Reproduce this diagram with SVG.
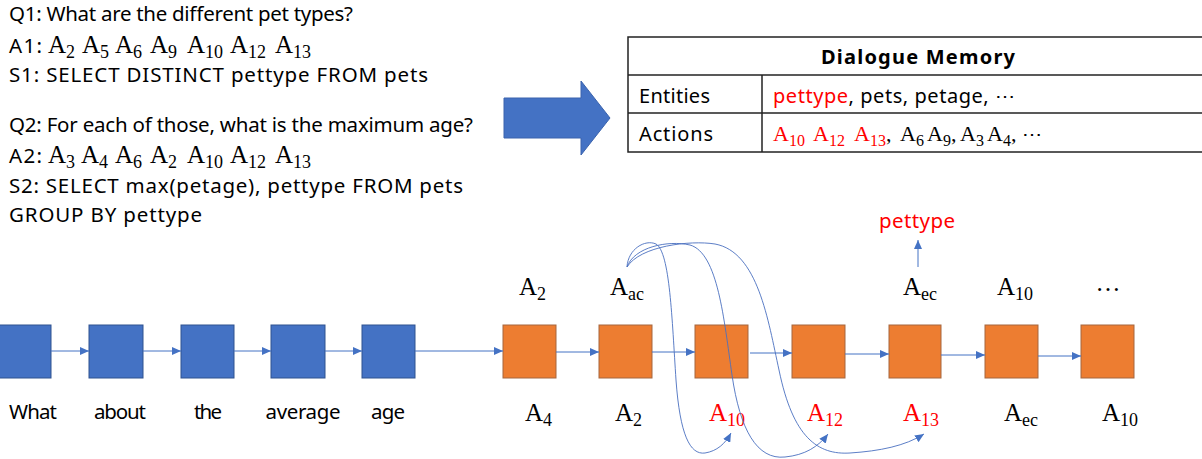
<svg xmlns="http://www.w3.org/2000/svg" width="1202" height="459" viewBox="0 0 1202 459">
<style>
.t{font-family:"Noto Sans","Liberation Sans",Arial,sans-serif;font-size:20.5px;fill:#000}
.m{font-family:"Liberation Serif","Times New Roman",serif;font-size:25px;fill:#000}
.ms{font-family:"Liberation Serif","Times New Roman",serif;font-size:22px;fill:#000}
.s{font-size:18px}
.s2{font-size:16px}
.red{fill:#FF0000}
.tb{font-family:"Noto Sans","Liberation Sans",Arial,sans-serif;font-size:20px;fill:#000}
.blue{fill:#4472C4;stroke:#2F528F;stroke-width:1}
.orange{fill:#ED7D31;stroke:#A5673F;stroke-width:1}
.c{stroke:#4472C4;stroke-width:1;fill:none}
.cv{stroke:#4A6FBF;stroke-width:0.9;fill:none}
.tl{stroke:#222;stroke-width:1.5;fill:none}
</style>
<defs>
<marker id="ah" markerUnits="userSpaceOnUse" markerWidth="10" markerHeight="8" refX="9" refY="4" orient="auto">
<path d="M0,0 L9,4 L0,8 z" fill="#4472C4"/>
</marker>
</defs>

<g id="question-text">
<text class="t" x="9" y="21" textLength="344">Q1: What are the different pet types?</text>
<text class="t" x="9" y="53" textLength="33">A1:</text>
<text class="m" x="48" y="53">A<tspan class="s" dy="5">2</tspan></text>
<text class="m" x="82" y="53">A<tspan class="s" dy="5">5</tspan></text>
<text class="m" x="115" y="53">A<tspan class="s" dy="5">6</tspan></text>
<text class="m" x="150" y="53">A<tspan class="s" dy="5">9</tspan></text>
<text class="m" x="187" y="53">A<tspan class="s" dy="5">10</tspan></text>
<text class="m" x="230" y="53">A<tspan class="s" dy="5">12</tspan></text>
<text class="m" x="275" y="53">A<tspan class="s" dy="5">13</tspan></text>
<text class="t" x="9" y="82" textLength="419">S1: SELECT DISTINCT pettype FROM pets</text>
<text class="t" x="9" y="132" textLength="464">Q2: For each of those, what is the maximum age?</text>
<text class="t" x="9" y="163" textLength="33">A2:</text>
<text class="m" x="48" y="163">A<tspan class="s" dy="5">3</tspan></text>
<text class="m" x="81" y="163">A<tspan class="s" dy="5">4</tspan></text>
<text class="m" x="115" y="163">A<tspan class="s" dy="5">6</tspan></text>
<text class="m" x="150" y="163">A<tspan class="s" dy="5">2</tspan></text>
<text class="m" x="187" y="163">A<tspan class="s" dy="5">10</tspan></text>
<text class="m" x="230" y="163">A<tspan class="s" dy="5">12</tspan></text>
<text class="m" x="275" y="163">A<tspan class="s" dy="5">13</tspan></text>
<text class="t" x="9" y="193" textLength="454">S2: SELECT max(petage), pettype FROM pets</text>
<text class="t" x="9" y="222" textLength="193">GROUP BY pettype</text>
</g>

<g id="big-arrow">
<path d="M504,98 L581,98 L581,81 L610,118 L581,155 L581,138 L504,138 z" fill="#4472C4" stroke="#3A63AD" stroke-width="1"/>
</g>

<g id="dialogue-memory">
<rect class="tl" x="628" y="37" width="580" height="115"/>
<line class="tl" x1="628" y1="75" x2="1202" y2="75"/>
<line class="tl" x1="628" y1="113" x2="1202" y2="113"/>
<line class="tl" x1="762" y1="75" x2="762" y2="152"/>
<text class="tb" x="918" y="64" text-anchor="middle" font-weight="bold" font-size="22" textLength="194">Dialogue Memory</text>
<text class="tb" x="639" y="103" textLength="71">Entities</text>
<text class="tb" x="639" y="141" textLength="74">Actions</text>
<text class="tb" x="773" y="103" textLength="242"><tspan class="red">pettype</tspan>, pets, petage, ⋯</text>
<text class="ms red" x="773" y="141">A<tspan class="s2" dy="5">10</tspan></text>
<text class="ms red" x="813" y="141">A<tspan class="s2" dy="5">12</tspan></text>
<text class="ms red" x="854" y="141">A<tspan class="s2" dy="5">13</tspan></text>
<text class="ms" x="886" y="141">,</text>
<text class="ms" x="900" y="141">A<tspan class="s2" dy="5">6</tspan></text>
<text class="ms" x="927" y="141">A<tspan class="s2" dy="5">9</tspan><tspan dy="-5">,</tspan></text>
<text class="ms" x="960" y="141">A<tspan class="s2" dy="5">3</tspan></text>
<text class="ms" x="987" y="141">A<tspan class="s2" dy="5">4</tspan><tspan dy="-5">,</tspan></text>
<text class="tb" x="1022" y="141">⋯</text>
</g>

<g id="encoder">
<g id="n-what"><rect class="blue" x="-2" y="325" width="53" height="53"/><text class="t" x="33" y="419" text-anchor="middle" textLength="48">What</text></g>
<g id="n-about"><rect class="blue" x="89" y="325" width="54" height="53"/><text class="t" x="120" y="419" text-anchor="middle" textLength="52">about</text></g>
<g id="n-the"><rect class="blue" x="181" y="325" width="53" height="53"/><text class="t" x="208" y="419" text-anchor="middle" textLength="28">the</text></g>
<g id="n-average"><rect class="blue" x="271" y="325" width="54" height="53"/><text class="t" x="303" y="419" text-anchor="middle" textLength="75">average</text></g>
<g id="n-age"><rect class="blue" x="362" y="325" width="53" height="53"/><text class="t" x="388" y="419" text-anchor="middle" textLength="34">age</text></g>
</g>

<g id="decoder">
<g id="d1"><rect class="orange" x="503" y="325" width="53" height="53"/>
<text class="m" x="519" y="295">A<tspan class="s" dy="5">2</tspan></text>
<text class="m" x="525" y="421">A<tspan class="s" dy="5">4</tspan></text></g>
<g id="d2"><rect class="orange" x="599" y="325" width="53" height="53"/>
<text class="m" x="610" y="295">A<tspan class="s" dy="5">ac</tspan></text>
<text class="m" x="615" y="421">A<tspan class="s" dy="5">2</tspan></text></g>
<g id="d3"><rect class="orange" x="695" y="325" width="53" height="53"/>
<text class="m red" x="709" y="421">A<tspan class="s" dy="5">10</tspan></text></g>
<g id="d4"><rect class="orange" x="792" y="325" width="53" height="53"/>
<text class="m red" x="807" y="421">A<tspan class="s" dy="5">12</tspan></text></g>
<g id="d5"><rect class="orange" x="889" y="325" width="52" height="53"/>
<text class="m" x="903" y="295">A<tspan class="s" dy="5">ec</tspan></text>
<text class="m red" x="903" y="421">A<tspan class="s" dy="5">13</tspan></text></g>
<g id="d6"><rect class="orange" x="985" y="325" width="53" height="53"/>
<text class="m" x="997" y="295">A<tspan class="s" dy="5">10</tspan></text>
<text class="m" x="1004" y="421">A<tspan class="s" dy="5">ec</tspan></text></g>
<g id="d7"><rect class="orange" x="1081" y="325" width="53" height="53"/>
<text class="m" x="1108" y="291" text-anchor="middle">…</text>
<text class="m" x="1102" y="421">A<tspan class="s" dy="5">10</tspan></text></g>
<g id="pettype-out"><text class="t red" x="917" y="228" text-anchor="middle" textLength="76">pettype</text></g>
</g>

<g id="connectors">
<line class="c" x1="51" y1="351" x2="89" y2="351" marker-end="url(#ah)"/>
<line class="c" x1="143" y1="351" x2="181" y2="351" marker-end="url(#ah)"/>
<line class="c" x1="234" y1="351" x2="271" y2="351" marker-end="url(#ah)"/>
<line class="c" x1="325" y1="351" x2="362" y2="351" marker-end="url(#ah)"/>
<line class="c" x1="415" y1="351" x2="503" y2="351" marker-end="url(#ah)"/>
<line class="c" x1="556" y1="352" x2="599" y2="352" marker-end="url(#ah)"/>
<line class="c" x1="652" y1="352" x2="695" y2="352" marker-end="url(#ah)"/>
<line class="c" x1="750" y1="353" x2="792" y2="353" marker-end="url(#ah)"/>
<line class="c" x1="845" y1="354" x2="889" y2="354" marker-end="url(#ah)"/>
<line class="c" x1="941" y1="355" x2="985" y2="355" marker-end="url(#ah)"/>
<line class="c" x1="1038" y1="356" x2="1081" y2="356" marker-end="url(#ah)"/>
<line class="c" x1="918" y1="267" x2="918" y2="240" marker-end="url(#ah)"/>
<path class="cv" d="M627,267 C628,249 645,239 656,244 C670,252 672,320 676,380 C680,435 690,455 705,453 C717,451 725,444 731,433" marker-end="url(#ah)"/>
<path class="cv" d="M627,267 C634,247 668,240 690,245 C718,253 724,320 732,375 C740,430 757,460 785,457 C805,455 818,447 828,434" marker-end="url(#ah)"/>
<path class="cv" d="M627,267 C640,246 690,240 715,244 C758,252 768,320 779,370 C793,438 818,455 850,453 C880,451 905,446 924,434" marker-end="url(#ah)"/>
</g>
</svg>
